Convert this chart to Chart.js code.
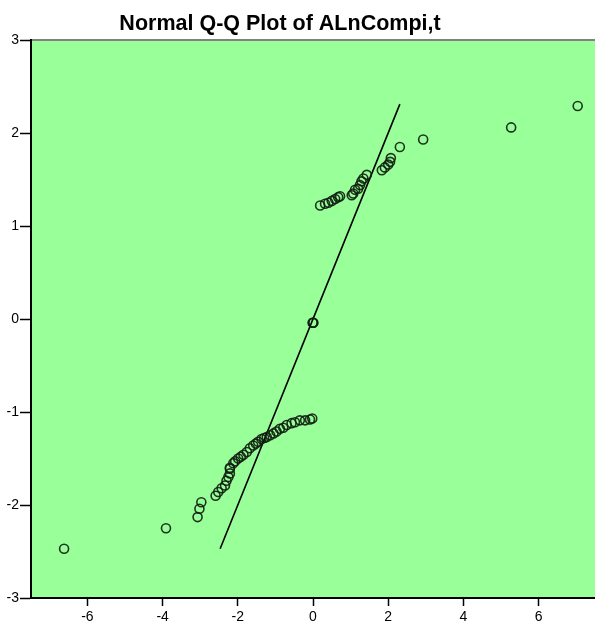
<!DOCTYPE html>
<html>
<head>
<meta charset="utf-8">
<script src="https://cdn.jsdelivr.net/npm/chart.js@4"></script>
<style>
  html, body { margin: 0; padding: 0; background: #fff; }
  #wrap { position: relative; width: 595px; height: 623px; }
</style>
</head>
<body>
<div id="wrap"><canvas id="QQPlot" width="595" height="623"></canvas></div>
<script>
const chartTitle = 'Normal Q-Q Plot of ALnCompi,t';

const observedValues = [
    -6.62, -3.91, -3.07, -3.02, -2.97, -2.59, -2.52, -2.43, -2.34, -2.30,
    -2.25, -2.21, -2.21, -2.21, -2.12, -2.07, -1.99, -1.92, -1.85, -1.76,
    -1.68, -1.59, -1.52, -1.46, -1.37, -1.30, -1.23, -1.14, -1.05, -0.97,
    -0.88, -0.79, -0.70, -0.57, -0.48, -0.35, -0.21, -0.08, -0.02,
    -0.01, 0.00, 0.01,
    0.19, 0.32, 0.41, 0.50, 0.59, 0.67, 0.72, 1.03, 1.07, 1.12,
    1.20, 1.25, 1.29, 1.34, 1.43, 1.83, 1.91, 2.00, 2.05, 2.07,
    2.31, 2.93, 5.27, 7.04
];
const expectedNormal = [
    -2.47, -2.25, -2.13, -2.04, -1.97, -1.90, -1.86, -1.82, -1.79, -1.74,
    -1.70, -1.66, -1.61, -1.60, -1.55, -1.53, -1.50, -1.48, -1.46, -1.43,
    -1.39, -1.36, -1.34, -1.32, -1.29, -1.28, -1.27, -1.25, -1.23, -1.21,
    -1.18, -1.17, -1.14, -1.12, -1.11, -1.09, -1.09, -1.08, -1.07,
    -0.04, -0.04, -0.04,
    1.22, 1.24, 1.25, 1.27, 1.29, 1.31, 1.32, 1.33, 1.35, 1.39,
    1.40, 1.44, 1.48, 1.51, 1.55, 1.60, 1.63, 1.66, 1.69, 1.73,
    1.85, 1.93, 2.06, 2.29
];

// reference line y = x
const lineX = [-2.47, 2.31];
const lineY = [-2.47, 2.31];

const xTicks = [-6, -4, -2, 0, 2, 4, 6];
const yTicks = [-3, -2, -1, 0, 1, 2, 3];

const plotBackground = {
    id: 'plotBackground',
    beforeDraw(chart) {
        const {ctx, chartArea: a} = chart;
        ctx.save();
        ctx.fillStyle = '#99ff99';
        ctx.fillRect(a.left, a.top, a.right - a.left, a.bottom - a.top);
        ctx.strokeStyle = '#808080';
        ctx.lineWidth = 2;
        ctx.beginPath();
        ctx.moveTo(a.left, a.top);
        ctx.lineTo(a.right, a.top);
        ctx.stroke();
        ctx.restore();
    },
    afterDraw(chart) {
        const ctx = chart.ctx;
        ctx.save();
        ctx.fillStyle = '#000';
        ctx.font = 'bold 21.5px "Liberation Sans", Arial, sans-serif';
        ctx.textAlign = 'center';
        ctx.textBaseline = 'alphabetic';
        ctx.fillText(chartTitle, 280, 30);
        ctx.restore();
    }
};

const tickFont = {family: '"Liberation Sans", Arial, sans-serif', size: 14};

new Chart(
    document.getElementById('QQPlot'),
    {
        type: 'scatter',
        data: {
            datasets: [
                {
                    label: 'Observed',
                    data: observedValues.map((v, i) => ({x: v, y: expectedNormal[i]})),
                    pointRadius: 4.5,
                    pointBorderWidth: 1.6,
                    pointBorderColor: 'rgba(15,30,15,0.9)',
                    pointBackgroundColor: 'rgba(0,0,0,0)',
                },
                {
                    type: 'line',
                    label: 'Normal line',
                    data: lineX.map((v, i) => ({x: v, y: lineY[i]})),
                    borderColor: '#000',
                    borderWidth: 1.6,
                    pointRadius: 0,
                }
            ]
        },
        options: {
            responsive: false,
            animation: false,
            layout: {autoPadding: false, padding: {top: 40, right: 0, left: 0, bottom: 0}},
            scales: {
                x: {
                    min: -7.5,
                    max: 7.5,
                    afterBuildTicks: s => { s.ticks = xTicks.map(v => ({value: v})); },
                    afterFit: s => { s.height = 25; },
                    grid: {drawOnChartArea: false, tickLength: 8, color: '#000', tickWidth: 1.5},
                    border: {color: '#000', width: 2},
                    ticks: {color: '#000', font: tickFont, padding: 3, maxRotation: 0},
                },
                y: {
                    min: -3,
                    max: 3,
                    afterBuildTicks: s => { s.ticks = yTicks.map(v => ({value: v})); },
                    afterFit: s => { s.width = 31; },
                    grid: {drawOnChartArea: false, tickLength: 11, color: '#000', tickWidth: 1.5},
                    border: {color: '#000', width: 2},
                    ticks: {color: '#000', font: tickFont, padding: 1},
                }
            },
            plugins: {
                legend: {display: false},
                tooltip: {enabled: false}
            }
        },
        plugins: [plotBackground]
    }
)
</script>
</body>
</html>
